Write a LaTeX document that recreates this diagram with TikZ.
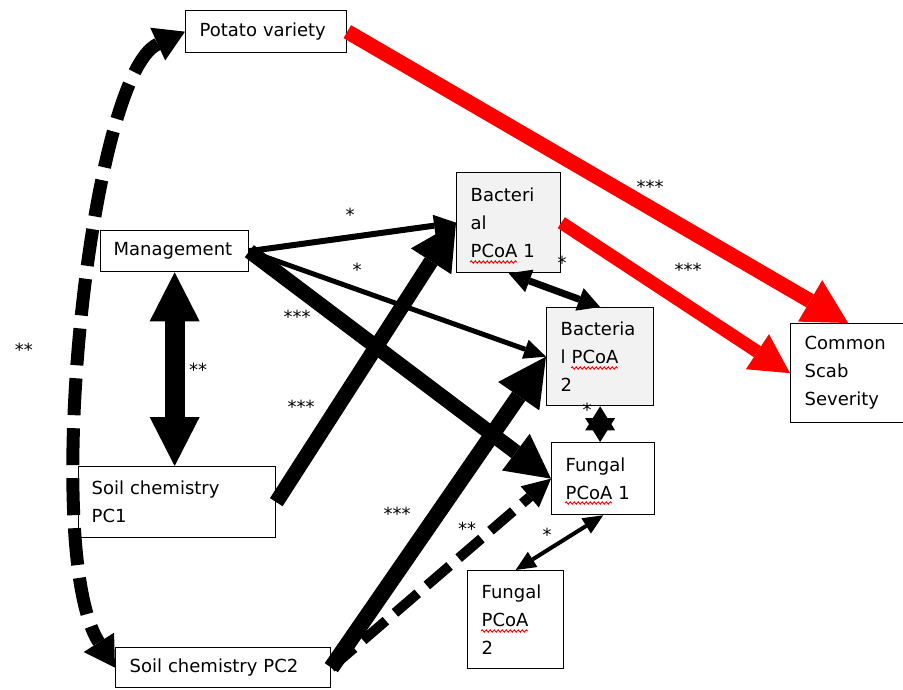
\documentclass[tikz,border=0pt]{standalone}
\usepackage{fontspec}
\setmainfont{DejaVu Sans}
\usetikzlibrary{arrows.meta,decorations.pathmorphing}
\definecolor{boxgray}{HTML}{F2F2F2}
\begin{document}
\begin{tikzpicture}[x=1pt,y=-1pt,
  box/.style={draw, line width=1.3pt, anchor=north west, inner xsep=14pt, inner ysep=0pt,
    align=left, fill=white, font=\fontsize{18}{28}\selectfont},
  gbox/.style={box, fill=boxgray},
  lab/.style={font=\fontsize{18}{18}\selectfont, inner sep=0pt, anchor=base},
  wav/.style={red, line width=0.9pt, decorate, decoration={snake, amplitude=1.2pt, segment length=4pt}},
  onearrow/.style 2 args={-{Triangle[length=#1,width=#2,line width=0pt]}},
  twoarrow/.style 2 args={{Triangle[length=#1,width=#2,line width=0pt]}-{Triangle[length=#1,width=#2,line width=0pt]}},
]
\useasboundingbox (0,0) rectangle (903,689);

% boxes
\node[box, text width=133pt, minimum height=42pt] (potato) at (185,10) {Potato variety};
\node[box, text width=122pt, minimum height=41pt, inner xsep=13pt] (mgmt) at (100,230) {Management};
\node[box, text width=171pt, minimum height=71pt, inner xsep=13pt] (soil1) at (78,466) {Soil chemistry\\PC1};
\node[box, text width=187pt, minimum height=40pt] (soil2) at (115,647) {Soil chemistry PC2};
\node[gbox, text width=76pt, minimum height=100pt] (bact1) at (456,172) {Bacteri\\al\\PCoA 1};
\node[gbox, text width=79pt, minimum height=98pt] (bact2) at (546,307) {Bacteria\\l PCoA\\2};
\node[box, text width=75pt, minimum height=72pt] (fung1) at (551,442) {Fungal\\PCoA 1};
\node[box, text width=68pt, minimum height=98pt] (fung2) at (467,570) {Fungal\\PCoA\\2};
\node[box, text width=87pt, minimum height=99pt] (cs) at (790,323) {Common\\Scab\\Severity};

% spell-check underlines
\draw[wav] (470,262) -- (517,262);
\draw[wav] (571,368) -- (618,368);
\draw[wav] (565,503) -- (612,503);
\draw[wav] (481,631) -- (528,631);

% red paths
\draw[red, line width=15pt, onearrow={44pt}{48pt}] (potato.east) -- (cs.north);
\draw[red, line width=13pt, onearrow={39pt}{42pt}] (bact1.east) -- (cs.west);

% black paths
\draw[line width=6pt, onearrow={22pt}{22pt}] (mgmt.east) -- (bact1.west);
\draw[line width=5pt, onearrow={22pt}{20pt}] (mgmt.east) -- (bact2.west);
\draw[line width=15pt, onearrow={44pt}{46pt}] (mgmt.east) -- (fung1.west);
\draw[line width=15pt, onearrow={46pt}{48pt}] (soil1.east) -- (bact1.west);
\draw[line width=16pt, onearrow={48pt}{50pt}] (soil2.east) -- (bact2.west);
\draw[line width=10pt, dash pattern=on 30pt off 12pt, onearrow={28pt}{28pt}] (soil2.east) -- (fung1.west);
\draw[line width=20pt, twoarrow={49pt}{50pt}] (mgmt.south) -- (mgmt.south |- soil1.north);
\draw[line width=7pt, twoarrow={22pt}{24pt}] (bact1.south) -- (bact2.north);
\draw[line width=6pt, twoarrow={24pt}{30pt}] (bact2.south) -- (bact2.south |- fung1.north);
\draw[line width=4pt, twoarrow={20pt}{18pt}] (fung1.south) -- (fung2.north);
\draw[line width=13pt, dash pattern=on 37pt off 13pt, twoarrow={30pt}{36pt}]
  (potato.west) .. controls (90,75) and (40,550) .. (soil2.west);

% significance labels
\node[lab] (s1) at (650,193) {***};
\node[lab] (s2) at (688,276) {***};
\node[lab] (s3) at (350,221) {*};
\node[lab] (s4) at (357,276) {*};
\node[lab] (s5) at (297,323) {***};
\node[lab] (s6) at (301,413) {***};
\node[lab] (s7) at (198,376) {**};
\node[lab] (s8) at (24,356) {**};
\node[lab] (s9) at (397,520) {***};
\node[lab] (s10) at (467,535) {**};
\node[lab] (s11) at (547,541) {*};
\node[lab] (s12) at (562,269) {*};
\node[lab] (s13) at (587,416) {*};
\end{tikzpicture}
\end{document}
